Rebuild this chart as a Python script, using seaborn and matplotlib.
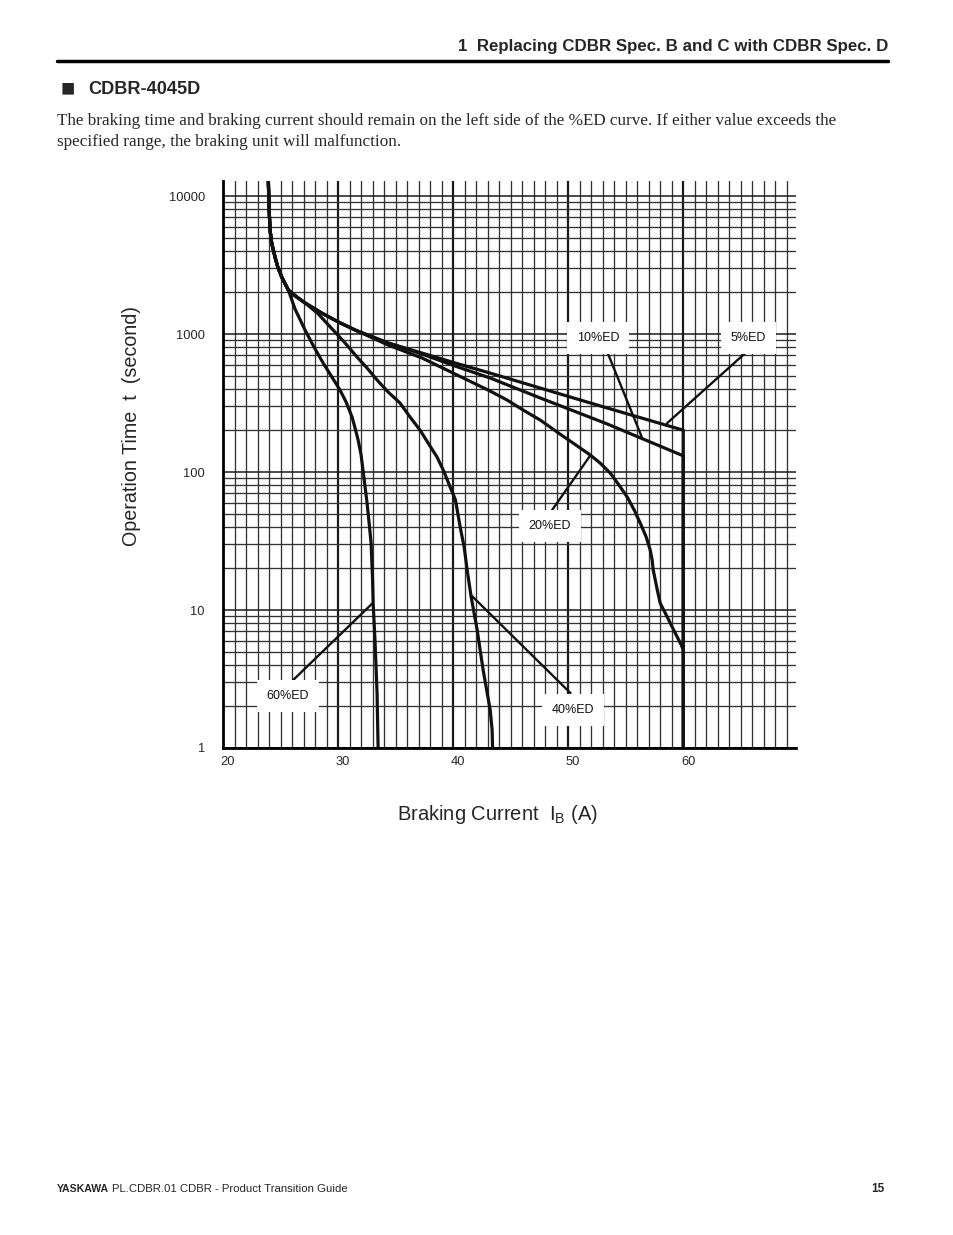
import numpy as np
import pandas as pd
import matplotlib
matplotlib.use("Agg")
import matplotlib.pyplot as plt
import matplotlib.transforms as mtransforms
from matplotlib.ticker import LogLocator, MultipleLocator, FixedLocator, NullFormatter
from matplotlib.lines import Line2D
import seaborn as sns

# ---------------- data ----------------
curve_names = ["5%ED", "10%ED", "20%ED", "40%ED", "60%ED"]

# common upper part of all curves (current A, time s)
shared_current = [23.94, 24.0, 24.09, 24.23, 24.52, 24.76, 25.10, 25.68]
shared_time = [12850, 8318, 5670, 4565, 3614, 3060, 2590, 2083]

ed5_current = [26.41, 27.13, 28.58, 30.03, 31.48, 34.35, 37.30, 40.17, 43.22, 47.57, 53.39, 60.0, 60.0]
ed5_time = [1854, 1680, 1419, 1222, 1069, 861, 728, 617, 521, 406, 291, 201, 1]

ed10_current = [26.41, 27.13, 28.58, 30.03, 31.48, 34.35, 37.30, 40.17, 43.22, 47.57, 53.39, 60.0, 60.0]
ed10_time = [1854, 1680, 1419, 1222, 1069, 861, 716, 586, 480, 344, 223, 131, 1]

ed20_current = [26.41, 27.13, 28.58, 30.03, 31.48, 34.35, 37.30, 40.17, 43.22, 44.70, 46.09,
                47.57, 49.30, 50.43, 51.91, 52.78, 53.65, 54.35, 55.13, 55.74, 56.26, 56.78,
                57.13, 57.30, 57.39, 57.57, 57.74, 58.0, 58.61, 59.04, 59.48, 59.83, 60.0]
ed20_time = [1854, 1680, 1419, 1222, 1069, 832, 670, 513, 386, 332, 281,
             238, 188, 162, 133, 116, 98.4, 81.9, 65.9, 53, 42.7, 33.8,
             27.2, 23.0, 19.5, 16.5, 14.0, 11.2, 8.9, 7.53, 6.37, 5.58, 5.13]

ed40_current = [26.41, 27.13, 28.2, 29.57, 30.61, 31.65, 32.52, 33.39, 34.35, 35.39, 36.26,
                37.13, 37.83, 38.61, 39.22, 39.74, 40.2, 40.61, 40.96, 41.22, 41.57,
                42.09, 42.61, 43.22, 43.39, 43.43]
ed40_time = [1854, 1680, 1420, 1069, 861, 681, 567, 464, 380, 316, 250,
             201, 162, 128, 100, 77.8, 63, 40.0, 28.6, 19.5, 12.4,
             7.16, 3.67, 1.89, 1.35, 1]

ed60_current = [26.26, 27.13, 27.91, 28.70, 30.17, 30.70, 31.22, 31.48, 31.74, 32.0,
                32.17, 32.35, 32.52, 32.70, 32.87, 33.0, 33.05, 33.22, 33.39, 33.48]
ed60_time = [1518, 1069, 805, 617, 393, 321, 250, 208, 171, 133,
             103, 77.9, 59.6, 42.7, 30.6, 16.5, 11.2, 5.77, 2.5, 1]

# label positions (current, time) and leader-line end points
label_current = [65.65, 52.6, 48.4, 50.4, 25.65]
label_time = [935, 935, 40.6, 1.89, 2.38]
leader_start_current = [65.5, 53.4, 48.6, 50.2, 26.1]
leader_start_time = [741, 741, 53, 2.5, 3.11]
leader_end_current = [58.6, 56.4, 51.9, 41.65, 33.0]
leader_end_time = [226, 179, 131, 12.6, 11.2]

x_tick_values = [20, 30, 40, 50, 60]
x_tick_labels = ["20", "30", "40", "50", "60"]
y_tick_values = [1, 10, 100, 1000, 10000]
y_tick_labels = ["1", "10", "100", "1000", "10000"]

# ---------------- build table ----------------
tails_c = [ed5_current, ed10_current, ed20_current, ed40_current, ed60_current]
tails_t = [ed5_time, ed10_time, ed20_time, ed40_time, ed60_time]
rows = []
for name, tc, tt in zip(curve_names, tails_c, tails_t):
    cs = shared_current + tc
    ts = shared_time + tt
    for i, (c, t) in enumerate(zip(cs, ts)):
        rows.append({"curve": name, "order": i, "current": c, "time": t})
df = pd.DataFrame(rows)

# ---------------- style ----------------
sns.set_theme(style="white")
plt.rcParams["font.family"] = ["Liberation Sans", "DejaVu Sans"]

W, H = 954, 1235
fig = plt.figure(figsize=(W / 100, H / 100), dpi=100)
fig.patch.set_facecolor("white")

ax = fig.add_axes([223 / W, 1 - 748 / H, 573 / W, 567 / H])
ax.set_facecolor("white")

ax.set_yscale("log")
ax.set_xlim(20, 69.8)
ax.set_ylim(1, 12850)

ax.xaxis.set_major_locator(FixedLocator(x_tick_values))
ax.xaxis.set_minor_locator(MultipleLocator(1))
ax.set_xticklabels(x_tick_labels)
ax.yaxis.set_major_locator(FixedLocator(y_tick_values))
ax.yaxis.set_minor_locator(LogLocator(base=10, subs=np.arange(2, 10)))
ax.yaxis.set_minor_formatter(NullFormatter())
ax.set_yticklabels(y_tick_labels)

ax.grid(which="major", axis="x", color="#1a1a1a", linewidth=1.6)
ax.grid(which="minor", axis="x", color="#333333", linewidth=0.95)
ax.grid(which="major", axis="y", color="#1a1a1a", linewidth=1.1)
ax.grid(which="minor", axis="y", color="#333333", linewidth=0.95)
ax.set_axisbelow(True)

for s in ["top", "right"]:
    ax.spines[s].set_visible(False)
for s in ["left", "bottom"]:
    ax.spines[s].set_color("black")
    ax.spines[s].set_linewidth(2.0)

ax.tick_params(which="both", length=0)
ax.tick_params(axis="x", pad=6, labelsize=9.3)
ax.tick_params(axis="y", pad=13, labelsize=9.3)
shift = mtransforms.ScaledTranslation(5 / 100, 0, fig.dpi_scale_trans)
for lab in ax.get_xticklabels():
    lab.set_transform(lab.get_transform() + shift)

sns.lineplot(data=df, x="current", y="time", hue="curve", units="curve",
             estimator=None, sort=False, palette=["#111111"] * 5,
             linewidth=2.3, legend=False, ax=ax)
for ln in ax.get_lines():
    ln.set_solid_joinstyle("round")
    ln.set_solid_capstyle("butt")

# leader lines
for xs, ys, xe, ye in zip(leader_start_current, leader_start_time,
                          leader_end_current, leader_end_time):
    ax.plot([xs, xe], [ys, ye], color="#111111", linewidth=1.7, zorder=4)

# labels
for name, lx, ly in zip(curve_names, label_current, label_time):
    ax.text(lx, ly, name, ha="center", va="center", fontsize=9,
            color="#111111", zorder=6,
            bbox=dict(boxstyle="square,pad=0.8", facecolor="white",
                      edgecolor="none"))
ax.set_xlabel("")
ax.set_ylabel("")

# axis titles
fig.text(132 / W, 1 - 426 / H, "Operation Time  t  (second)", rotation=90,
         ha="center", va="center", fontsize=14.2)
fig.text(497 / W, 1 - 815 / H, r"Braking Current  I$\mathregular{_B}$ (A)",
         ha="center", va="center", fontsize=14.5)

# page texts
fig.text(888 / W, 1 - 47 / H, "1  Replacing CDBR Spec. B and C with CDBR Spec. D",
         ha="right", va="center", fontsize=12.2, weight="bold")
fig.add_artist(Line2D([57 / W, 888 / W], [1 - 61 / H, 1 - 61 / H],
                      color="black", linewidth=2.5))
fig.text(61 / W, 1 - 89 / H, "■", ha="left", va="center",
         fontsize=17, weight="bold")
fig.text(88 / W, 1 - 89 / H, "CDBR-4045D", ha="left", va="center",
         fontsize=13.1, weight="bold")
fig.text(57 / W, 1 - 121 / H,
         "The braking time and braking current should remain on the left side of the %ED curve. If either value exceeds the",
         ha="left", va="center", fontsize=12.35, family=["Liberation Serif", "DejaVu Serif"])
fig.text(57 / W, 1 - 142 / H,
         "specified range, the braking unit will malfunction.",
         ha="left", va="center", fontsize=12.35, family=["Liberation Serif", "DejaVu Serif"])

fig.text(57 / W, 1 - 1189 / H, "YASKAWA", ha="left", va="center",
         fontsize=7.6, weight="bold")
fig.text(112 / W, 1 - 1189 / H, "PL.CDBR.01 CDBR - Product Transition Guide",
         ha="left", va="center", fontsize=8.2)
fig.text(885 / W, 1 - 1189 / H, "15", ha="right", va="center",
         fontsize=8.5, weight="bold")

fig.savefig("out.png", dpi=100, facecolor="white")
